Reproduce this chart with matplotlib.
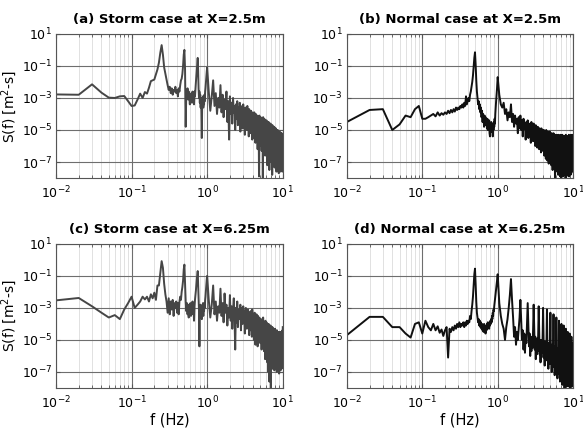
import numpy as np
import matplotlib.pyplot as plt
from matplotlib.ticker import NullLocator

# frequency grid (Hz): 0.01 step up to 1 Hz, 0.05 step up to 10 Hz
f_lo = np.arange(1, 101) * 0.01
f_hi = 1.0 + np.arange(1, 181) * 0.05
freq = np.concatenate([f_lo, f_hi])

# log10 S(f)
logS_a = [
    -2.78, -2.8, -2.15, -2.67, -2.98, -3.0, -2.9, -2.88, -3.2, -3.5,
    -3.47, -3.1, -2.73, -3.0, -2.63, -2.73, -2.36, -1.95, -1.9, -1.85,
    -1.53, -1.22, -0.8, -0.18, 0.3, -0.3, -1.1, -1.5, -1.85, -2.2,
    -2.5, -2.3, -2.7, -2.4, -2.8, -2.5, -2.6, -2.3, -2.7, -2.5,
    -2.9, -2.4, -2.6, -2.2, -1.9, -1.8, -1.5, -1.0, -0.3, 0.0,
    -1.2, -4.8, -2.6, -2.9, -2.4, -3.1, -2.6, -2.9, -3.4, -2.8,
    -3.2, -2.7, -3.3, -2.6, -3.0, -2.8, -3.4, -2.6, -2.9, -2.4,
    -2.0, -1.6, -1.2, -0.8, -0.5, -1.3, -2.4, -3.0, -2.6, -3.3,
    -2.8, -3.6, -3.0, -3.9, -5.5, -3.2, -3.5, -2.9, -3.6, -3.0,
    -3.4, -2.8, -3.2, -2.6, -2.4, -2.1, -1.8, -1.5, -1.3, -1.1,
    -2.6, -3.8, -2.9, -1.9, -3.5, -2.7, -4.0, -3.0, -3.6, -2.2,
    -3.9, -2.8, -4.2, -3.1, -3.7, -2.6, -4.5, -3.2, -5.6, -2.9,
    -4.0, -3.3, -4.6, -3.0, -3.9, -3.5, -5.0, -3.4, -4.3, -3.2,
    -4.7, -3.6, -4.2, -3.3, -5.1, -3.7, -4.4, -3.5, -4.9, -3.4,
    -4.5, -3.8, -5.3, -3.6, -4.6, -3.9, -5.0, -3.5, -4.8, -3.9,
    -5.4, -3.7, -4.7, -4.0, -5.2, -3.8, -4.6, -4.1, -5.6, -3.9,
    -4.9, -4.0, -5.5, -3.9, -5.0, -4.2, -5.8, -4.0, -5.1, -4.3,
    -5.7, -4.1, -6.2, -4.2, -5.3, -4.4, -7.9, -4.1, -5.5, -4.3,
    -6.0, -4.2, -5.4, -4.5, -6.3, -4.3, -5.6, -4.4, -8.0, -4.2,
    -5.8, -4.5, -6.4, -4.3, -5.7, -4.6, -6.6, -4.4, -5.9, -4.5,
    -6.5, -4.4, -5.8, -4.7, -7.2, -4.5, -6.0, -4.6, -6.7, -4.5,
    -6.1, -4.8, -7.5, -4.6, -6.2, -4.7, -6.8, -4.6, -6.3, -4.9,
    -7.0, -4.7, -6.4, -4.8, -7.8, -4.7, -6.5, -5.0, -6.9, -4.8,
    -6.6, -4.9, -7.3, -4.8, -6.7, -5.0, -7.1, -4.9, -6.8, -5.1,
    -7.4, -4.9, -6.9, -5.0, -7.6, -5.1, -6.9, -5.0, -7.2, -5.2,
    -7.0, -5.0, -7.5, -5.1, -7.0, -5.3, -7.7, -5.1, -7.1, -5.2,
    -7.3, -5.1, -7.0, -5.3, -7.6, -5.2, -7.2, -5.4, -7.4, -5.2,
    -7.1, -5.3, -7.5, -5.2, -7.2, -5.4, -7.6, -5.3, -7.3, -5.4,
]

logS_b = [
    -4.5, -3.75, -3.7, -5.0, -4.65, -4.1, -4.2, -3.7, -3.5, -4.3,
    -4.3, -4.2, -4.1, -4.0, -4.15, -3.9, -4.1, -3.95, -4.05, -3.9,
    -4.0, -3.8, -3.95, -3.75, -3.9, -3.7, -3.85, -3.6, -3.75, -3.6,
    -3.7, -3.5, -3.6, -3.4, -3.6, -3.3, -3.5, -2.9, -3.4, -3.2,
    -3.0, -3.2, -2.8, -2.6, -2.3, -2.0, -1.6, -1.0, -0.5, -0.15,
    -0.9, -1.9, -2.6, -3.0, -3.4, -3.2, -3.7, -3.4, -3.9, -3.6,
    -4.2, -3.8, -4.5, -4.0, -4.3, -4.8, -4.1, -4.6, -4.2, -4.7,
    -4.4, -4.9, -4.3, -5.0, -4.5, -4.8, -4.4, -5.2, -5.4, -4.6,
    -5.0, -4.5, -5.1, -4.6, -4.9, -5.4, -4.7, -5.0, -4.5, -4.8,
    -4.3, -4.6, -4.0, -3.6, -3.3, -3.0, -2.7, -2.4, -2.0, -1.7,
    -2.8, -3.4, -3.6, -3.3, -4.0, -3.7, -4.4, -3.9, -4.2, -3.4,
    -4.5, -4.0, -4.8, -4.1, -4.6, -4.3, -5.2, -4.2, -4.9, -4.1,
    -5.0, -4.4, -5.4, -4.3, -4.9, -4.6, -5.6, -4.5, -5.1, -4.4,
    -5.5, -4.6, -5.2, -4.7, -5.8, -4.5, -5.3, -4.8, -5.7, -4.6,
    -5.4, -4.8, -6.0, -4.7, -5.5, -4.9, -6.1, -4.8, -5.6, -4.9,
    -6.2, -4.9, -5.7, -5.0, -6.4, -4.9, -5.8, -5.1, -6.3, -5.0,
    -5.9, -5.0, -6.6, -5.1, -6.0, -5.2, -6.8, -5.0, -6.1, -5.2,
    -6.9, -5.1, -6.3, -5.2, -7.1, -5.3, -6.4, -5.1, -7.0, -5.2,
    -6.5, -5.3, -7.2, -5.2, -6.6, -5.4, -7.5, -5.3, -6.7, -5.2,
    -7.3, -5.4, -6.8, -5.3, -8.0, -5.4, -6.9, -5.3, -7.4, -5.5,
    -7.0, -5.3, -7.6, -5.4, -7.1, -5.5, -7.8, -5.3, -7.2, -5.4,
    -7.7, -5.5, -7.0, -5.4, -7.9, -5.3, -7.3, -5.5, -8.0, -5.4,
    -7.2, -5.5, -7.6, -5.3, -7.4, -5.6, -7.9, -5.4, -7.3, -5.5,
    -7.8, -5.4, -7.2, -5.6, -7.7, -5.4, -7.5, -5.5, -8.0, -5.3,
    -7.4, -5.5, -7.9, -5.4, -7.3, -5.6, -7.7, -5.4, -7.5, -5.5,
    -7.2, -5.4, -7.8, -5.5, -7.4, -5.3, -7.9, -5.5, -7.3, -5.4,
    -7.6, -5.5, -7.2, -5.4, -7.8, -5.5, -7.4, -5.3, -7.7, -5.5,
    -7.3, -5.4, -7.6, -5.5, -7.2, -5.4, -7.5, -5.3, -7.4, -5.4,
]

logS_c = [
    -2.53, -2.38, -2.9, -3.3, -3.6, -3.45, -3.7, -3.1, -2.7, -2.3,
    -3.0, -2.8, -2.6, -2.3, -2.47, -2.3, -2.6, -2.15, -2.4, -2.05,
    -2.5, -1.6, -1.6, -0.8, -0.08, -0.5, -1.5, -2.15, -2.6, -3.3,
    -2.4, -3.4, -2.6, -3.1, -2.5, -3.5, -2.7, -3.0, -2.6, -3.3,
    -2.7, -3.4, -2.6, -2.3, -2.5, -2.0, -1.7, -1.3, -0.6, -0.3,
    -1.5, -2.6, -3.2, -2.7, -3.4, -2.8, -3.6, -2.9, -3.3, -2.7,
    -3.5, -2.8, -3.1, -2.6, -3.4, -2.9, -3.8, -2.9, -2.5, -2.2,
    -1.9, -1.5, -1.2, -1.0, -0.7, -1.6, -2.5, -3.2, -5.4, -3.0,
    -3.5, -2.8, -3.4, -2.9, -3.7, -3.0, -3.3, -2.7, -3.5, -2.9,
    -3.2, -2.7, -3.0, -2.5, -2.3, -2.0, -1.7, -1.4, -1.15, -1.0,
    -2.5, -3.6, -2.8, -1.6, -3.4, -2.6, -3.8, -2.9, -3.3, -1.8,
    -3.5, -2.7, -3.9, -2.1, -3.3, -2.8, -4.1, -3.0, -3.6, -2.2,
    -3.8, -2.9, -4.3, -3.1, -2.4, -3.6, -5.6, -3.0, -3.9, -2.6,
    -4.2, -3.1, -3.7, -3.2, -2.8, -4.4, -3.3, -3.0, -4.0, -2.9,
    -3.7, -3.3, -4.6, -3.2, -3.0, -3.8, -4.3, -3.4, -3.1, -4.1,
    -3.6, -4.7, -3.3, -3.9, -3.2, -4.4, -3.5, -4.8, -3.1, -3.9,
    -4.5, -3.4, -5.0, -3.6, -3.3, -4.2, -5.3, -3.5, -4.6, -3.4,
    -4.9, -3.7, -5.4, -3.5, -4.4, -3.8, -5.1, -3.6, -4.7, -3.7,
    -5.2, -3.8, -4.6, -3.9, -5.6, -3.7, -4.8, -4.0, -5.3, -3.6,
    -4.9, -4.0, -5.7, -3.9, -5.0, -4.1, -6.2, -3.8, -5.1, -4.0,
    -5.8, -3.9, -5.2, -4.2, -6.4, -4.0, -5.3, -4.1, -7.0, -4.0,
    -5.5, -4.3, -7.6, -4.1, -5.4, -4.2, -6.6, -4.1, -8.0, -4.3,
    -5.6, -4.2, -6.2, -4.4, -5.7, -4.2, -6.8, -4.3, -5.8, -4.5,
    -6.3, -4.3, -5.9, -4.4, -6.9, -4.5, -6.0, -4.3, -6.5, -4.6,
    -6.1, -4.4, -6.7, -4.5, -6.2, -4.6, -7.0, -4.4, -6.3, -4.5,
    -6.8, -4.6, -6.2, -4.5, -6.6, -4.7, -6.4, -4.5, -7.1, -4.6,
    -6.3, -4.7, -6.7, -4.5, -6.5, -4.6, -6.9, -4.8, -6.4, -4.6,
    -6.6, -4.5, -6.8, -4.7, -6.3, -4.6, -6.7, -4.4, -6.5, -4.2,
]

logS_d = [
    -4.7, -3.56, -3.56, -4.2, -4.2, -4.6, -4.85, -4.0, -3.9, -4.6,
    -3.8, -4.2, -4.4, -4.0, -4.4, -4.15, -4.55, -4.35, -4.75, -4.4,
    -4.2, -6.1, -4.3, -4.5, -4.2, -4.4, -4.1, -4.3, -4.0, -4.2,
    -3.9, -4.2, -4.0, -4.1, -3.9, -4.2, -3.9, -4.1, -3.8, -4.0,
    -3.8, -3.9, -3.5, -3.7, -3.2, -2.8, -2.3, -1.6, -0.9, -0.55,
    -1.5, -2.6, -3.3, -3.6, -3.9, -3.7, -4.1, -3.8, -4.2, -3.9,
    -4.3, -4.0, -4.4, -4.1, -4.5, -4.0, -4.3, -4.2, -4.6, -4.1,
    -4.4, -4.0, -4.3, -3.9, -4.2, -4.0, -4.3, -3.9, -4.1, -3.8,
    -4.0, -3.7, -3.9, -3.5, -3.7, -3.3, -3.5, -3.1, -3.2, -2.9,
    -2.7, -2.5, -2.3, -2.1, -1.9, -1.7, -1.5, -1.3, -1.1, -0.9,
    -2.7, -3.5, -4.0, -4.3, -5.0, -4.2, -3.7, -3.0, -2.2, -1.2,
    -2.5, -3.6, -4.8, -4.2, -5.3, -4.5, -5.0, -4.3, -3.6, -2.5,
    -3.8, -5.0, -4.4, -5.6, -4.6, -5.8, -4.7, -5.2, -4.0, -2.7,
    -4.1, -5.4, -4.6, -6.0, -4.9, -5.7, -4.8, -5.5, -4.3, -2.8,
    -4.3, -5.6, -4.8, -6.2, -5.0, -5.9, -4.9, -5.7, -4.5, -2.9,
    -4.4, -5.9, -5.0, -6.4, -5.1, -6.1, -5.0, -5.8, -4.6, -3.0,
    -4.6, -6.1, -5.1, -6.6, -5.2, -6.3, -5.1, -6.0, -4.8, -3.1,
    -4.8, -6.3, -5.2, -6.8, -5.3, -6.5, -5.2, -6.2, -4.9, -3.3,
    -4.9, -6.5, -5.3, -7.0, -5.4, -6.7, -5.3, -6.4, -5.0, -3.4,
    -5.0, -6.7, -5.4, -7.2, -5.5, -6.9, -5.4, -6.6, -5.1, -3.6,
    -5.1, -6.9, -5.5, -7.4, -5.6, -7.1, -5.5, -6.8, -5.2, -3.8,
    -5.2, -7.1, -5.6, -7.6, -5.7, -7.3, -5.6, -7.0, -5.3, -4.0,
    -5.3, -7.3, -5.7, -7.8, -5.8, -7.5, -5.7, -7.2, -5.4, -4.1,
    -5.4, -7.4, -5.8, -8.0, -5.9, -7.6, -5.8, -7.3, -5.5, -4.3,
    -5.5, -7.5, -5.9, -7.9, -6.0, -7.7, -5.9, -7.4, -5.6, -4.5,
    -5.6, -7.6, -6.0, -7.9, -6.1, -7.8, -6.0, -7.5, -5.7, -4.6,
    -5.7, -7.7, -6.1, -8.0, -6.2, -7.8, -6.1, -7.6, -5.8, -4.8,
    -5.8, -7.8, -6.2, -7.9, -6.3, -7.7, -6.2, -7.5, -5.9, -5.2,
]

titles = ["(a) Storm case at X=2.5m", "(b) Normal case at X=2.5m",
          "(c) Storm case at X=6.25m", "(d) Normal case at X=6.25m"]
series = [logS_a, logS_b, logS_c, logS_d]
colors = ["#464646", "#111111", "#464646", "#111111"]
boxes = [[0.096, 0.585, 0.389, 0.336], [0.595, 0.585, 0.388, 0.336],
         [0.096, 0.0956, 0.389, 0.336], [0.595, 0.0956, 0.388, 0.336]]

fig = plt.figure(figsize=(5.83, 4.29), dpi=100)

for i in range(4):
    ax = fig.add_axes(boxes[i])
    S = 10.0 ** np.array(series[i])
    ax.loglog(freq, S, color=colors[i], lw=1.4)
    ax.set_xlim(0.01, 10)
    ax.set_ylim(1e-8, 10)
    ax.set_xticks([1e-2, 1e-1, 1e0, 1e1])
    ax.set_yticks([1e1, 1e-1, 1e-3, 1e-5, 1e-7])
    ax.yaxis.set_minor_locator(NullLocator())
    ax.grid(which="major", color="#6e6e6e", lw=0.8)
    ax.grid(which="minor", axis="x", color="#dcdcdc", lw=0.6)
    ax.set_axisbelow(True)
    ax.tick_params(which="both", direction="in", labelsize=9,
                   top=True, right=True, color="#555555")
    ax.tick_params(which="major", length=3, pad=5)
    ax.tick_params(axis="y", which="major", pad=3)
    ax.tick_params(which="minor", length=2)
    for sp in ax.spines.values():
        sp.set_color("#555555")
        sp.set_linewidth(0.8)
    ax.set_title(titles[i], fontsize=9.5, fontweight="bold", pad=8)
    if i % 2 == 0:
        ax.set_ylabel("S(f) [m$^2$-s]", fontsize=10)
        ax.yaxis.set_label_coords(-0.165, 0.5)
    if i >= 2:
        ax.set_xlabel("f (Hz)", fontsize=10.5, labelpad=1)

fig.savefig("out.png", dpi=100)
